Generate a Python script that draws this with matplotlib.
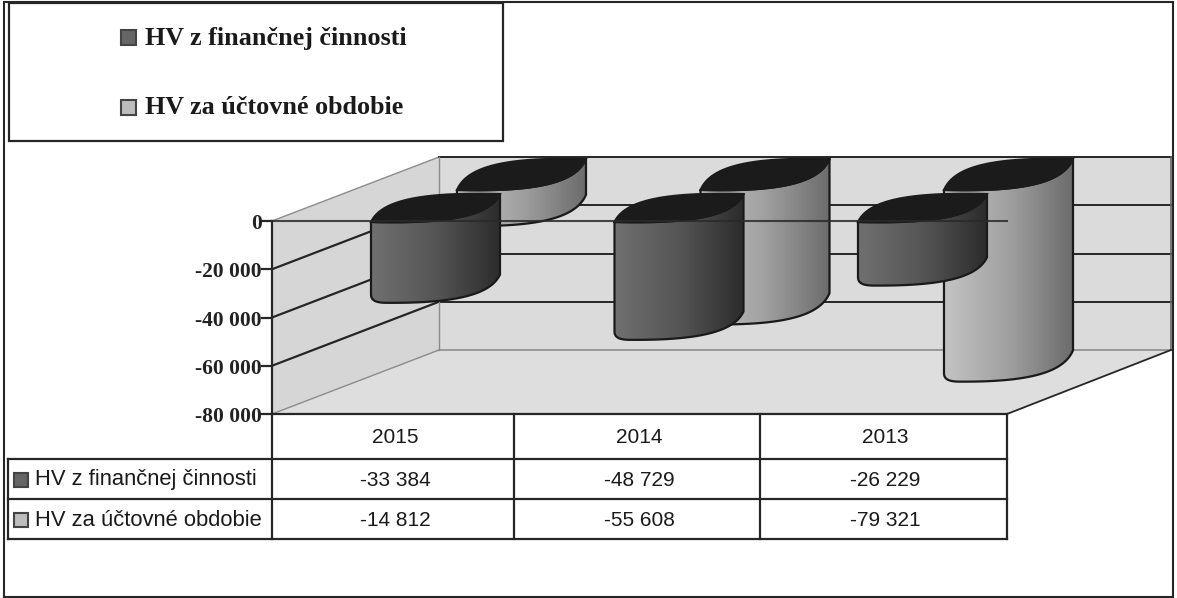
import matplotlib
matplotlib.use("Agg")
import matplotlib.pyplot as plt
import numpy as np
from matplotlib.patches import Polygon, Rectangle
from matplotlib.colors import LinearSegmentedColormap

years = ["2015", "2014", "2013"]
series_names = ["HV z finančnej činnosti", "HV za účtovné obdobie"]
hv_financna = [-33384, -48729, -26229]
hv_obdobie = [-14812, -55608, -79321]
y_ticks = [0, -20000, -40000, -60000, -80000]

# layout of the 3d box, in pixels of the 1177x598 picture
FRONT_LEFT = 272
FRONT_RIGHT = 1007
ZERO_Y = 221
BOTTOM_Y = 414
DEPTH_X = 166
DEPTH_Y = 64
CYL_STEP = 243.5
CYL_W = 129
LINE = "#262626"


def val_y(v, back=False):
    y = ZERO_Y + (BOTTOM_Y - ZERO_Y) * v / y_ticks[-1]
    return y - DEPTH_Y if back else y


def fmt(v):
    return f"{v:,}".replace(",", " ")


def bezier(p0, p1, p2, p3, n=40):
    t = np.linspace(0, 1, n)[:, None]
    p0, p1, p2, p3 = [np.array(p, dtype=float) for p in (p0, p1, p2, p3)]
    return (1 - t) ** 3 * p0 + 3 * (1 - t) ** 2 * t * p1 + 3 * (1 - t) * t ** 2 * p2 + t ** 3 * p3


def cylinder(ax, left, base, value, colors, z, cap_h):
    right = left + CYL_W
    h = val_y(value) - ZERO_Y
    low = bezier((left, base), (left + 0.6 * CYL_W, base + 2),
                 (left + 0.92 * CYL_W, base - 0.21 * cap_h), (right, base - cap_h))
    up = bezier((right, base - cap_h), (right - 0.6 * CYL_W, base - cap_h - 2),
                (right - 0.92 * CYL_W, base - 0.79 * cap_h), (left, base))

    # body: bottom arc pushed down by the value, round corner at lower left
    bottom = low + [0, h]
    bottom = bottom[bottom[:, 0] > left + 14]
    corner = bezier((left, base + h - 8), (left, base + h - 2),
                    (left + 5, base + h + 0.5), bottom[0], 12)
    body = np.vstack([[(left, base)], corner, bottom, [(right, base - cap_h)], low[::-1]])

    cmap = LinearSegmentedColormap.from_list("cyl", colors)
    im = ax.imshow(np.linspace(0, 1, 200)[None, :], cmap=cmap, aspect="auto", zorder=z,
                   extent=(left, right, base + h + 2, base - cap_h - 2), interpolation="bilinear")
    clip = Polygon(body, closed=True, transform=ax.transData, fc="none", ec="none")
    ax.add_patch(clip)
    im.set_clip_path(clip)
    ax.add_patch(Polygon(body, closed=True, fc="none", ec="#1a1a1a", lw=1.6, zorder=z + 0.1))
    ax.add_patch(Polygon(np.vstack([low, up]), closed=True, fc="#1b1b1b", ec="#1b1b1b", lw=1.5, zorder=z + 0.2))


fig = plt.figure(figsize=(11.77, 5.98), dpi=100)
ax = fig.add_axes([0, 0, 1, 1])
ax.axis("off")

# walls and floor
back_l = FRONT_LEFT + DEPTH_X + 1
back_r = FRONT_RIGHT + DEPTH_X - 2
ax.add_patch(Polygon([(FRONT_LEFT, ZERO_Y), (back_l, ZERO_Y - DEPTH_Y),
                      (back_l, BOTTOM_Y - DEPTH_Y), (FRONT_LEFT, BOTTOM_Y)],
                     fc="#d6d6d6", ec="none", zorder=1))
ax.add_patch(Rectangle((back_l, ZERO_Y - DEPTH_Y), back_r - back_l, BOTTOM_Y - ZERO_Y,
                       fc="#dbdbdb", ec="none", zorder=1))
ax.add_patch(Polygon([(FRONT_LEFT, BOTTOM_Y), (back_l, BOTTOM_Y - DEPTH_Y),
                      (back_r, BOTTOM_Y - DEPTH_Y), (FRONT_RIGHT, BOTTOM_Y)],
                     fc="#dedede", ec="none", zorder=1))

for v in y_ticks:
    yf, yb = val_y(v), val_y(v, back=True)
    thin = v in (y_ticks[0], y_ticks[-1])
    ax.plot([FRONT_LEFT, back_l], [yf, yb], color="#8c8c8c" if thin else LINE, lw=1 if thin else 1.6, zorder=2)
    if v == y_ticks[-1]:
        ax.plot([back_l, back_r], [yb, yb], color="#8c8c8c", lw=1.2, zorder=2)
    else:
        ax.plot([back_l, back_r], [yb, yb], color=LINE, lw=1.4, zorder=2)
    ax.plot([FRONT_LEFT - 10, FRONT_LEFT], [yf, yf], color=LINE, lw=1.6, zorder=6)
    ax.text(FRONT_LEFT - 10, yf + 3, fmt(v), ha="right", va="center", fontsize=15.5,
            family="Liberation Serif", weight="bold", color="#222222", zorder=6)
ax.plot([back_l, back_l], [val_y(0, True), val_y(y_ticks[-1], True)], color="#8c8c8c", lw=1, zorder=2)
ax.plot([back_r, back_r], [val_y(0, True), val_y(y_ticks[-1], True)], color="#666666", lw=1.2, zorder=2)
ax.plot([FRONT_RIGHT, back_r], [BOTTOM_Y, BOTTOM_Y - DEPTH_Y], color=LINE, lw=1.3, zorder=2)
ax.plot([FRONT_LEFT, FRONT_LEFT], [ZERO_Y, BOTTOM_Y], color=LINE, lw=1.6, zorder=6)

# cylinders, back series first
dark_cols = ["#707070", "#555555", "#2c2c2c"]
light_cols = ["#c4c4c4", "#a0a0a0", "#6c6c6c"]
for i in range(len(years)):
    left = FRONT_LEFT + i * CYL_STEP + 99
    cylinder(ax, left + 86, ZERO_Y - 31, hv_obdobie[i], light_cols, 3 + i, 31)
    cylinder(ax, left, ZERO_Y + 1, hv_financna[i], dark_cols, 3.5 + i, 28)
ax.plot([FRONT_LEFT, FRONT_RIGHT], [ZERO_Y, ZERO_Y], color="#2a2a2a", lw=1.5, zorder=8, alpha=0.85)

# data table
rows = [BOTTOM_Y, 459, 499, 539]
cols = [FRONT_LEFT, 514, 760, FRONT_RIGHT]
for y in rows:
    ax.plot([8 if y != BOTTOM_Y else FRONT_LEFT, FRONT_RIGHT], [y, y], color=LINE, lw=1.6, zorder=9)
for x in cols:
    ax.plot([x, x], [BOTTOM_Y, rows[-1]], color=LINE, lw=1.6, zorder=9)
ax.plot([8, 8], [rows[1], rows[-1]], color=LINE, lw=1.6, zorder=9)

for i, yr in enumerate(years):
    cx = (cols[i] + cols[i + 1]) / 2
    ax.text(cx + 2, (rows[0] + rows[1]) / 2 + 1, yr, ha="center", va="center", fontsize=15, family="Liberation Sans", color="#1a1a1a")
    ax.text(cx + 2, (rows[1] + rows[2]) / 2 + 1, fmt(hv_financna[i]), ha="center", va="center", fontsize=15, family="Liberation Sans", color="#1a1a1a")
    ax.text(cx + 2, (rows[2] + rows[3]) / 2 + 1, fmt(hv_obdobie[i]), ha="center", va="center", fontsize=15, family="Liberation Sans", color="#1a1a1a")

swatch = ["#666666", "#bdbdbd"]
for j, name in enumerate(series_names):
    y = (rows[j + 1] + rows[j + 2]) / 2 + 1
    ax.add_patch(Rectangle((14, y - 7), 14, 14, fc=swatch[j], ec="#444444", lw=1.5, zorder=9))
    ax.text(35, y, name, ha="left", va="center", fontsize=15.8, family="Liberation Sans", color="#1a1a1a")

# legend box
ax.add_patch(Rectangle((9, 3), 494, 138, fc="white", ec=LINE, lw=1.6, zorder=9))
for j, (name, y) in enumerate(zip(series_names, [38, 108])):
    ax.add_patch(Rectangle((121, y - 8), 15, 15, fc=swatch[j], ec="#444444", lw=1.5, zorder=10))
    ax.text(145, y, name, ha="left", va="center", fontsize=18.8, family="Liberation Serif", weight="bold",
            color="#1a1a1a", zorder=10)

# outer frame of the chart
ax.add_patch(Rectangle((4, 2), 1169, 595, fc="none", ec=LINE, lw=1.5, zorder=10))

ax.set_xlim(0, 1177)
ax.set_ylim(598, 0)
fig.savefig("out.png", dpi=100)
